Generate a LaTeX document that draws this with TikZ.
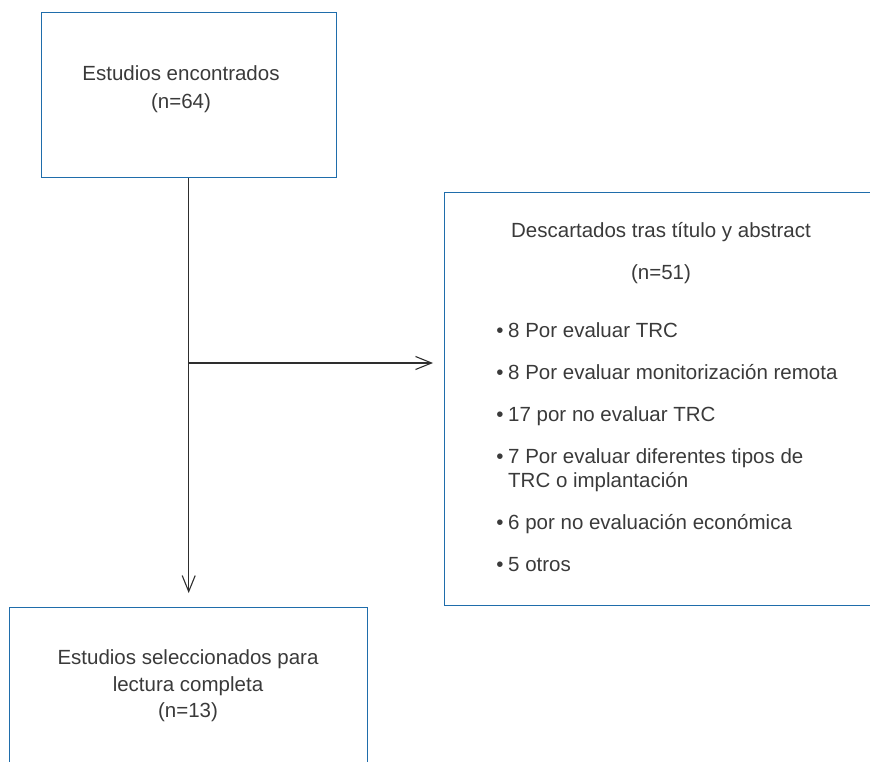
\documentclass[tikz,border=0pt]{standalone}
\usepackage{fontspec}
\setmainfont{Liberation Sans}
\usetikzlibrary{arrows.meta}
\definecolor{boxblue}{HTML}{1F6DAB}
\definecolor{txt}{HTML}{3A3A3A}
\definecolor{linecol}{HTML}{2E2E2E}
\begin{document}
\begin{tikzpicture}[x=1pt,y=-1pt,
  box/.style={draw=boxblue, line width=1.4pt, inner sep=0pt, anchor=north west},
  lbl/.style={font=\fontsize{20.5}{24}\selectfont, text=txt, inner sep=0pt, anchor=base},
  lbll/.style={lbl, anchor=base west},
  conn/.style={draw=linecol, line width=1.1pt},
  tip/.style={-{Straight Barb[length=16pt,width=13pt,line width=1.1pt]}}
]
\useasboundingbox (0,0) rectangle (870,762);
\clip (0,0) rectangle (870,762);
% boxes
\node[box, minimum width=295pt, minimum height=165pt] (top) at (41,12) {};
\node[box, minimum width=440pt, minimum height=413pt] (right) at (444,192) {};
\node[box, minimum width=358pt, minimum height=200pt] (bot) at (9,607) {};
% top box text
\node[lbl] (t1) at (181,80.5) {Estudios encontrados};
\node[lbl] (t2) at (181,108.5) {(n=64)};
% right box text
\node[lbl] (r1) at (661,237.5) {Descartados tras título y abstract};
\node[lbl] (r2) at (661,279.5) {(n=51)};
\node[lbl] (b1) at (500,337.5) {\textbullet};
\node[lbll] (l1) at (508,337.5) {8 Por evaluar TRC};
\node[lbl] (b2) at (500,379.5) {\textbullet};
\node[lbll] (l2) at (508,379.5) {8 Por evaluar monitorización remota};
\node[lbl] (b3) at (500,421.5) {\textbullet};
\node[lbll] (l3) at (508,421.5) {17 por no evaluar TRC};
\node[lbl] (b4) at (500,463.5) {\textbullet};
\node[lbll] (l4) at (508,463.5) {7 Por evaluar diferentes tipos de};
\node[lbll] (l4b) at (508,487.5) {TRC o implantación};
\node[lbl] (b5) at (500,529.5) {\textbullet};
\node[lbll] (l5) at (508,529.5) {6 por no evaluación económica};
\node[lbl] (b6) at (500,571.5) {\textbullet};
\node[lbll] (l6) at (508,571.5) {5 otros};
% bottom box text
\node[lbl] (s1) at (188,664.5) {Estudios seleccionados para};
\node[lbl] (s2) at (188,691.5) {lectura completa};
\node[lbl] (s3) at (188,717.5) {(n=13)};
% connectors
\coordinate (src) at ([xshift=-0.5pt]top.south);
\coordinate (split) at (188,363);
\draw[conn, tip, shorten >=14pt] (src) -- (src |- bot.north);
\draw[conn, tip, shorten >=11pt] (split) -- (split -| right.west);
\end{tikzpicture}
\end{document}
